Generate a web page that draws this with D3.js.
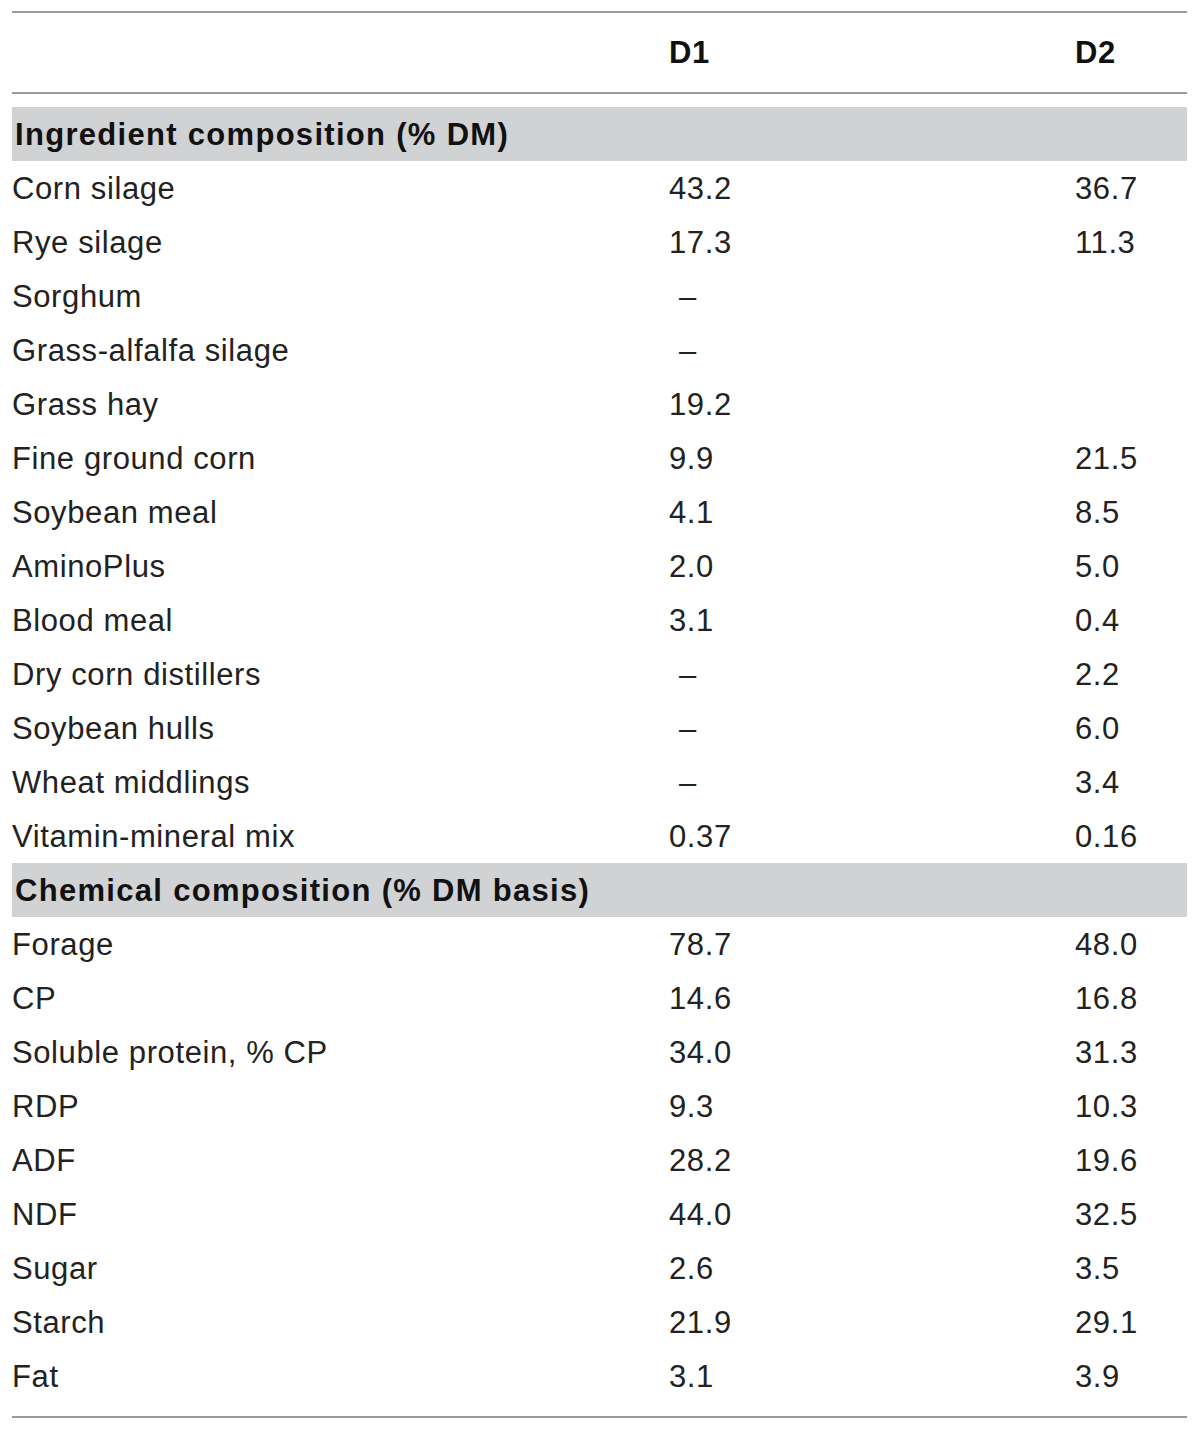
<!DOCTYPE html>
<html>
<head>
<meta charset="utf-8">
<script src="https://cdn.jsdelivr.net/npm/d3@7"></script>
<style>
  body { margin: 0; background: #fff; }
  svg { display: block; }
</style>
</head>
<body>
<div id="table"></div>
<script>
const columns = ["D1", "D2"];

const ingredientLabel = "Ingredient composition (% DM)";
const ingredients = [
  "Corn silage", "Rye silage", "Sorghum", "Grass-alfalfa silage", "Grass hay",
  "Fine ground corn", "Soybean meal", "AminoPlus", "Blood meal",
  "Dry corn distillers", "Soybean hulls", "Wheat middlings", "Vitamin-mineral mix"
];
const ingredientD1 = ["43.2", "17.3", "–", "–", "19.2", "9.9", "4.1", "2.0", "3.1", "–", "–", "–", "0.37"];
const ingredientD2 = ["36.7", "11.3", "", "", "", "21.5", "8.5", "5.0", "0.4", "2.2", "6.0", "3.4", "0.16"];

const chemicalLabel = "Chemical composition (% DM basis)";
const chemicals = ["Forage", "CP", "Soluble protein, % CP", "RDP", "ADF", "NDF", "Sugar", "Starch", "Fat"];
const chemicalD1 = ["78.7", "14.6", "34.0", "9.3", "28.2", "44.0", "2.6", "21.9", "3.1"];
const chemicalD2 = ["48.0", "16.8", "31.3", "10.3", "19.6", "32.5", "3.5", "29.1", "3.9"];

const width = 1200, height = 1431;
const left = 12, right = 1187;
const font = "'Liberation Sans', Arial, Helvetica, sans-serif";

// flatten into rows
const rows = [];
rows.push({ type: "section", label: ingredientLabel });
ingredients.forEach((d, i) => rows.push({ type: "data", label: d, v: [ingredientD1[i], ingredientD2[i]] }));
rows.push({ type: "section", label: chemicalLabel });
chemicals.forEach((d, i) => rows.push({ type: "data", label: d, v: [chemicalD1[i], chemicalD2[i]] }));
rows.forEach((r, i) => (r.id = i));

const svg = d3.select("#table").append("svg")
  .attr("width", width)
  .attr("height", height);

const y = d3.scaleBand()
  .domain(rows.map((d) => d.id))
  .range([107, 107 + rows.length * 54])
  .paddingInner(0);

const x = d3.scaleOrdinal()
  .domain(["label", ...columns])
  .range([12, 669, 1075]);

// rules
[12, 93, 1417].forEach((yy) => {
  svg.append("line")
    .attr("x1", left).attr("x2", right)
    .attr("y1", yy).attr("y2", yy)
    .attr("stroke", "#9a9a9a")
    .attr("stroke-width", 2);
});

// header
svg.selectAll("text.col-head")
  .data(columns)
  .enter()
  .append("text")
  .attr("class", "col-head")
  .attr("x", (d) => x(d))
  .attr("y", 52)
  .attr("dy", "0.35em")
  .attr("font-family", font)
  .attr("font-weight", "bold")
  .attr("font-size", 31)
  .attr("letter-spacing", 0.6)
  .attr("fill", "#111")
  .text((d) => d);

// section bands
svg.selectAll("rect.band")
  .data(rows.filter((d) => d.type === "section"))
  .enter()
  .append("rect")
  .attr("class", "band")
  .attr("x", left)
  .attr("width", right - left)
  .attr("y", (d) => y(d.id))
  .attr("height", y.bandwidth())
  .attr("fill", "#d1d2d4");

const g = svg.selectAll("g.row")
  .data(rows)
  .enter()
  .append("g")
  .attr("class", "row")
  .attr("transform", (d) => `translate(0,${y(d.id) + y.bandwidth() / 2})`);

g.append("text")
  .attr("x", (d) => (d.type === "section" ? 15 : x("label")))
  .attr("dy", "0.35em")
  .attr("font-family", font)
  .attr("font-size", 31)
  .attr("letter-spacing", (d) => (d.type === "section" ? 1.3 : 0.6))
  .attr("font-weight", (d) => (d.type === "section" ? "bold" : "normal"))
  .attr("fill", (d) => (d.type === "section" ? "#111" : "#222"))
  .text((d) => d.label);

columns.forEach((c, ci) => {
  g.filter((d) => d.type === "data")
    .append("text")
    .attr("x", (d) => (d.v[ci] === "–" ? x(c) + 10 : x(c)))
    .attr("dy", "0.35em")
    .attr("font-family", font)
    .attr("font-size", 31)
    .attr("letter-spacing", 0.6)
    .attr("fill", "#222")
    .text((d) => d.v[ci]);
});
</script>
</body>
</html>
